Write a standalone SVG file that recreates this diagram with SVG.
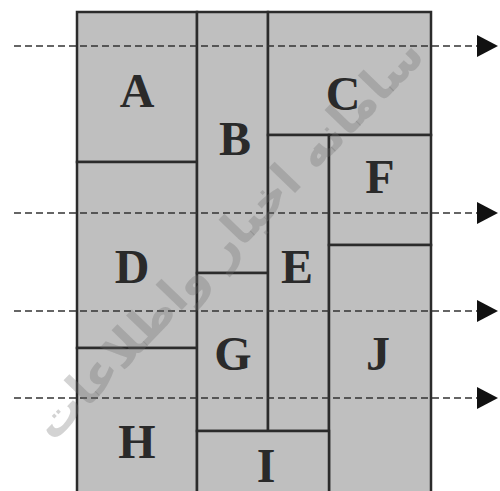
<svg xmlns="http://www.w3.org/2000/svg" width="500" height="491" viewBox="0 0 500 491">
<style>
.cell{fill:#bfbfbf;stroke:#2b2b2b;stroke-width:2.5}
.lbl{font-family:"Liberation Serif","Times New Roman",serif;font-weight:bold;font-size:48px;fill:#2a2a2a;text-anchor:middle}
.dash{stroke:#333;stroke-width:1.6;stroke-dasharray:7 4;fill:none}
.wm{font-family:"DejaVu Sans",sans-serif;font-weight:bold;font-size:48px;fill:#6e6e6e;fill-opacity:0.3;text-anchor:middle}
</style>
<defs>
<marker id="ah" markerUnits="userSpaceOnUse" markerWidth="22" markerHeight="24" refX="21" refY="11" orient="auto">
<polygon points="0,0 21,11 0,22" fill="#111"/>
</marker>
</defs>
<rect width="500" height="491" fill="#fff"/>
<g id="A"><rect class="cell" x="77" y="12" width="120" height="150"/><text class="lbl" x="137" y="107">A</text></g>
<g id="D"><rect class="cell" x="77" y="162" width="120" height="186"/><text class="lbl" x="132" y="283">D</text></g>
<g id="H"><rect class="cell" x="77" y="348" width="120" height="150"/><text class="lbl" x="137" y="458">H</text></g>
<g id="B"><rect class="cell" x="197" y="12" width="71" height="261"/><text class="lbl" x="235" y="155">B</text></g>
<g id="G"><rect class="cell" x="197" y="273" width="71" height="158"/><text class="lbl" x="233" y="370">G</text></g>
<g id="C"><rect class="cell" x="268" y="12" width="163" height="123"/><text class="lbl" x="343" y="110">C</text></g>
<g id="E"><rect class="cell" x="268" y="135" width="61" height="296"/><text class="lbl" x="297" y="283">E</text></g>
<g id="F"><rect class="cell" x="329" y="135" width="102" height="110"/><text class="lbl" x="380" y="193">F</text></g>
<g id="J"><rect class="cell" x="329" y="245" width="102" height="253"/><text class="lbl" x="378" y="370">J</text></g>
<g id="I"><rect class="cell" x="197" y="431" width="132" height="67"/><text class="lbl" x="266" y="482">I</text></g>
<g id="connectors">
<line class="dash" x1="14" y1="46" x2="498" y2="46" marker-end="url(#ah)"/>
<line class="dash" x1="14" y1="213" x2="498" y2="213" marker-end="url(#ah)"/>
<line class="dash" x1="14" y1="311" x2="498" y2="311" marker-end="url(#ah)"/>
<line class="dash" x1="14" y1="398" x2="498" y2="398" marker-end="url(#ah)"/>
</g>
<text class="wm" x="0" y="0" transform="translate(240,250) rotate(-46)">سامانه اخبار واطلاعات</text>
</svg>
